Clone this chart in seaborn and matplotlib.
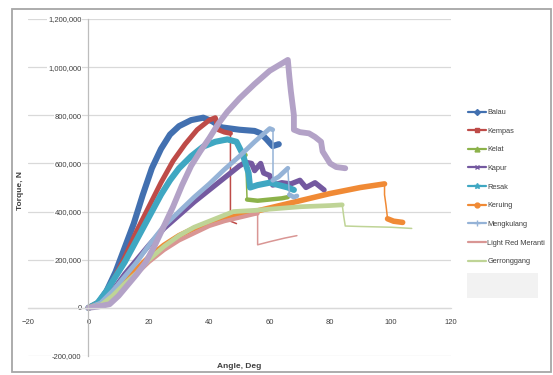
import matplotlib
matplotlib.use("Agg")
import matplotlib.pyplot as plt
import seaborn as sns
from matplotlib.lines import Line2D
from matplotlib.patches import Rectangle
from matplotlib.ticker import FuncFormatter, MultipleLocator

# angle in degrees, torque in thousands of N
balau_angle = [0, 3, 6, 9, 12, 15, 18, 21, 24, 27, 30, 34, 38, 41, 44, 50, 55, 57, 59, 61, 63]
balau_torque = [0, 15, 70, 150, 250, 350, 470, 580, 660, 720, 755, 780, 790, 775, 750, 740, 735, 725, 700, 672, 680]

kempas_angle = [0, 4, 8, 12, 16, 20, 24, 28, 32, 36, 40, 42, 43, 45, 47, 47, 49]
kempas_torque = [0, 30, 110, 210, 320, 420, 520, 610, 680, 740, 780, 790, 740, 730, 725, 360, 350]

kelat_angle = [0, 3, 6, 9, 12, 15, 18, 21, 24, 27, 30, 34, 38, 42, 46, 49, 51, 52, 52.5, 56, 60, 64, 66]
kelat_torque = [0, 20, 70, 130, 190, 260, 330, 400, 470, 530, 580, 630, 670, 690, 698, 688, 640, 635, 450, 445, 450, 455, 460]

kapur_angle = [0, 4, 8, 12, 16, 20, 25, 30, 35, 40, 45, 50, 52, 54, 55, 57, 58, 60, 61, 64, 67, 70, 72, 75, 78]
kapur_torque = [0, 15, 70, 140, 200, 260, 330, 385, 440, 490, 540, 590, 605, 600, 570, 600, 560, 550, 510, 520, 515, 530, 500, 520, 490]

resak_angle = [0, 3, 6, 9, 12, 15, 18, 21, 24, 27, 30, 34, 38, 42, 46, 49, 51, 52, 53, 53.5, 56, 60, 63, 66, 68]
resak_torque = [0, 20, 70, 130, 190, 260, 330, 400, 470, 530, 580, 630, 670, 690, 700, 690, 640, 600, 560, 500, 510, 520, 510, 500, 490]

keruing_angle = [0, 5, 10, 15, 20, 25, 30, 35, 40, 45, 50, 55, 60, 70, 80, 90, 98, 98, 98.5, 99, 101, 104]
keruing_torque = [0, 20, 80, 150, 210, 260, 300, 330, 350, 370, 385, 400, 415, 445, 475, 500, 515, 470, 425, 370, 360, 355]

mengkulang_angle = [0, 4, 8, 12, 16, 20, 25, 30, 35, 40, 45, 50, 55, 60, 61, 61, 63, 66, 66.5, 68, 69]
mengkulang_torque = [0, 20, 70, 130, 190, 260, 340, 400, 460, 515, 575, 630, 690, 745, 740, 530, 545, 580, 470, 460, 465]

meranti_angle = [0, 5, 10, 15, 20, 25, 30, 35, 40, 45, 50, 55, 56, 56, 60, 65, 69]
meranti_torque = [0, 15, 70, 130, 190, 240, 280, 310, 340, 360, 375, 390, 392, 262, 275, 290, 300]

gerronggang_angle = [0, 4, 8, 12, 16, 20, 25, 30, 35, 40, 45, 48, 55, 60, 70, 80, 84, 84.5, 85, 90, 100, 107]
gerronggang_torque = [0, 10, 50, 100, 145, 200, 255, 300, 335, 360, 385, 400, 405, 410, 420, 425, 428, 380, 340, 338, 335, 330]

# tenth series, its legend entry is hidden behind the grey box
extra_angle = [0, 3, 7, 10, 13, 16, 19, 22, 25, 28, 31, 34, 37, 40, 43, 46, 50, 55, 60, 64, 66,
               66.5, 67, 67.5, 68, 68, 70, 73, 75, 77, 77.5, 79, 80, 82, 85]
extra_torque = [0, 5, 15, 50, 95, 140, 190, 260, 340, 420, 510, 590, 650, 705, 765, 815, 870, 930, 985, 1015, 1030,
                960, 900, 850, 800, 740, 730, 725, 710, 690, 650, 620, 600, 585, 580]

names = ["Balau", "Kempas", "Kelat", "Kapur", "Resak", "Keruing",
         "Mengkulang", "Light Red Meranti", "Gerronggang", ""]

series = {
    "Balau": (balau_angle, balau_torque),
    "Kempas": (kempas_angle, kempas_torque),
    "Kelat": (kelat_angle, kelat_torque),
    "Kapur": (kapur_angle, kapur_torque),
    "Resak": (resak_angle, resak_torque),
    "Keruing": (keruing_angle, keruing_torque),
    "Mengkulang": (mengkulang_angle, mengkulang_torque),
    "Light Red Meranti": (meranti_angle, meranti_torque),
    "Gerronggang": (gerronggang_angle, gerronggang_torque),
    "": (extra_angle, extra_torque),
}

colors = {
    "Balau": "#4270B0", "Kempas": "#BE4B48", "Kelat": "#8CB24A", "Kapur": "#7459A0",
    "Resak": "#3FA7C2", "Keruing": "#F08A35", "Mengkulang": "#95B3D7",
    "Light Red Meranti": "#D99694", "Gerronggang": "#BFD496", "": "#B3A2C7",
}
markers = {
    "Balau": ("D", 3), "Kempas": ("s", 3.5), "Kelat": ("^", 3.5), "Kapur": ("x", 3),
    "Resak": ("*", 4), "Keruing": ("o", 3.5), "Mengkulang": ("+", 4),
    "Light Red Meranti": (None, 0), "Gerronggang": (None, 0),
}
widths = {
    "Balau": 4.4, "Kempas": 3.6, "Kelat": 3.2, "Kapur": 3.8, "Resak": 4.4, "Keruing": 4.0,
    "Mengkulang": 3.4, "Light Red Meranti": 3.0, "Gerronggang": 3.4, "": 4.2,
}
# steps (point i -> i+1) drawn with a thin line, where the markers are sparse
thin_steps = {
    "Kempas": {14, 15},
    "Kelat": {17},
    "Keruing": {16, 17, 18},
    "Mengkulang": {14, 17},
    "Light Red Meranti": {12, 13, 14, 15},
    "Gerronggang": {16, 17, 18, 19, 20},
}

sns.set_theme(style="white")
plt.rcParams["font.family"] = ["Liberation Sans", "DejaVu Sans"]

fig = plt.figure(figsize=(5.53, 3.75), dpi=100)
ax = fig.add_axes([28 / 553, 19 / 375, 423 / 553, 337 / 375])

for name in names:
    xs, ys = series[name]
    ys = [v * 1000 for v in ys]
    thin = thin_steps.get(name, set())
    # split into runs of equal thickness
    start = 0
    n = len(xs) - 1
    while start < n:
        kind = start in thin
        end = start
        while end < n and (end in thin) == kind:
            end += 1
        lw = 1.1 if kind else widths[name]
        sns.lineplot(x=xs[start:end + 1], y=ys[start:end + 1], sort=False, estimator=None,
                     color=colors[name], lw=lw, ax=ax, solid_capstyle="round",
                     solid_joinstyle="round")
        start = end

ax.set_xlim(-20, 120)
ax.set_ylim(-200000, 1200000)
ax.xaxis.set_major_locator(MultipleLocator(20))
ax.yaxis.set_major_locator(MultipleLocator(200000))
ax.yaxis.set_major_formatter(FuncFormatter(lambda v, p: f"{v:,.0f}"))

ax.grid(axis="y", color="#D9D9D9", lw=0.9)
ax.grid(axis="x", visible=False)
for gl in ax.get_ygridlines():
    gl.set_clip_on(False)
ax.set_axisbelow(True)

for side in ["top", "right"]:
    ax.spines[side].set_visible(False)
ax.spines["left"].set_position(("data", 0))
ax.spines["left"].set_color("#BDBDBD")
ax.spines["left"].set_linewidth(0.9)
ax.spines["bottom"].set_position(("data", 0))
ax.spines["bottom"].set_color("#D9D9D9")
ax.spines["bottom"].set_linewidth(0.9)

ax.tick_params(axis="y", length=0, labelsize=5.5, pad=5, labelcolor="#404040")
ax.tick_params(axis="x", length=0, labelsize=5.5, pad=8, labelcolor="#404040")
for lab in ax.get_yticklabels() + ax.get_xticklabels():
    lab.set_bbox(dict(facecolor="white", edgecolor="none", pad=0.6))
ax.set_xlabel("")
ax.set_ylabel("")

fig.text(239 / 553, 1 - 366 / 375, "Angle, Deg", ha="center", va="center",
         fontsize=6, fontweight="bold", color="#404040")
fig.text(20 / 553, 1 - 190 / 375, "Torque, N", ha="center", va="center", rotation=90,
         fontsize=6, fontweight="bold", color="#404040")

handles = []
for name in names[:-1]:
    m, ms = markers[name]
    handles.append(Line2D([], [], color=colors[name], lw=1.6, marker=m, markersize=ms,
                          markeredgewidth=1.0))
fig.legend(handles, names[:-1], loc="upper left", bbox_to_anchor=(468 / 553, 1 - 109 / 375),
           frameon=False, fontsize=5.3, labelspacing=1.56, handlelength=2.4,
           handletextpad=0.2, borderaxespad=0, borderpad=0, labelcolor="#404040")

fig.patches.append(Rectangle((467 / 553, 1 - 298 / 375), 71 / 553, 25 / 375,
                             transform=fig.transFigure, facecolor="#F2F2F2", edgecolor="none"))
fig.patches.append(Rectangle((12 / 553, 1 - 372 / 375), 539 / 553, 363 / 375,
                             transform=fig.transFigure, fill=False, edgecolor="#A6A6A6", lw=1.3))

fig.savefig("out.png", dpi=100)
